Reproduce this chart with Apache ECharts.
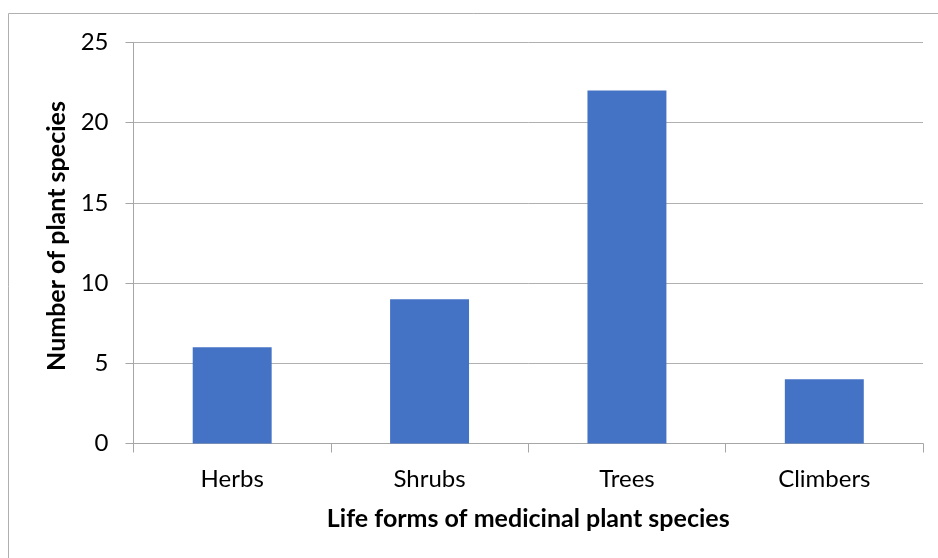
<!DOCTYPE html>
<html>
<head>
<meta charset="utf-8">
<script src="https://cdn.jsdelivr.net/npm/echarts@6/dist/echarts.min.js"></script>
<style>
  html, body { margin: 0; padding: 0; background: #fff; }
  #chart { width: 938px; height: 558px; }
</style>
</head>
<body>
<div id="chart"></div>
<script>
// Life forms of medicinal plant species
const categories = ['Herbs', 'Shrubs', 'Trees', 'Climbers'];
const speciesCounts = [6, 9, 22, 4];
const yTicks = [0, 5, 10, 15, 20, 25];

const FONT = 'Lato';
const AXIS_GRAY = '#a6a6a6';

const chart = echarts.init(document.getElementById('chart'), null, { renderer: 'canvas' });

chart.setOption({
  backgroundColor: '#ffffff',
  animation: false,
  graphic: [
    {
      type: 'rect',
      shape: { x: 8.5, y: 13.5, width: 1000, height: 1000 },
      style: { fill: 'none', stroke: '#b0b0b0', lineWidth: 1 },
      silent: true
    }
  ],
  grid: { left: 133.5, right: 15, top: 42.5, bottom: 114.5 },
  xAxis: {
    type: 'category',
    data: categories,
    name: 'Life forms of medicinal plant species',
    nameLocation: 'middle',
    nameGap: 75,
    nameTextStyle: {
      fontFamily: FONT, fontWeight: 'bold', fontSize: 25, color: '#000',
      verticalAlign: 'middle'
    },
    axisLine: { show: true, lineStyle: { color: AXIS_GRAY, width: 1 } },
    axisTick: { show: true, alignWithLabel: false, interval: 0, length: 9, lineStyle: { color: AXIS_GRAY } },
    axisLabel: { fontFamily: FONT, fontSize: 24, color: '#000', margin: 24, interval: 0 },
    splitLine: { show: false }
  },
  yAxis: {
    type: 'value',
    min: yTicks[0],
    max: yTicks[yTicks.length - 1],
    interval: yTicks[1] - yTicks[0],
    name: 'Number of plant species',
    nameLocation: 'middle',
    nameGap: 76,
    nameRotate: 90,
    nameTextStyle: {
      fontFamily: FONT, fontWeight: 'bold', fontSize: 25, color: '#000',
      verticalAlign: 'middle',
      padding: [0, 0, 0, 14]
    },
    axisLine: { show: true, lineStyle: { color: AXIS_GRAY, width: 1 } },
    axisTick: { show: true, inside: false, length: 8, lineStyle: { color: AXIS_GRAY } },
    axisLabel: { fontFamily: FONT, fontSize: 24, color: '#000', margin: 25 },
    splitLine: { show: true, lineStyle: { color: '#b0b0b0', width: 1 } }
  },
  series: [
    {
      type: 'bar',
      data: speciesCounts,
      barCategoryGap: '60%',
      itemStyle: { color: '#4472c4' }
    }
  ]
});
</script>
</body>
</html>
